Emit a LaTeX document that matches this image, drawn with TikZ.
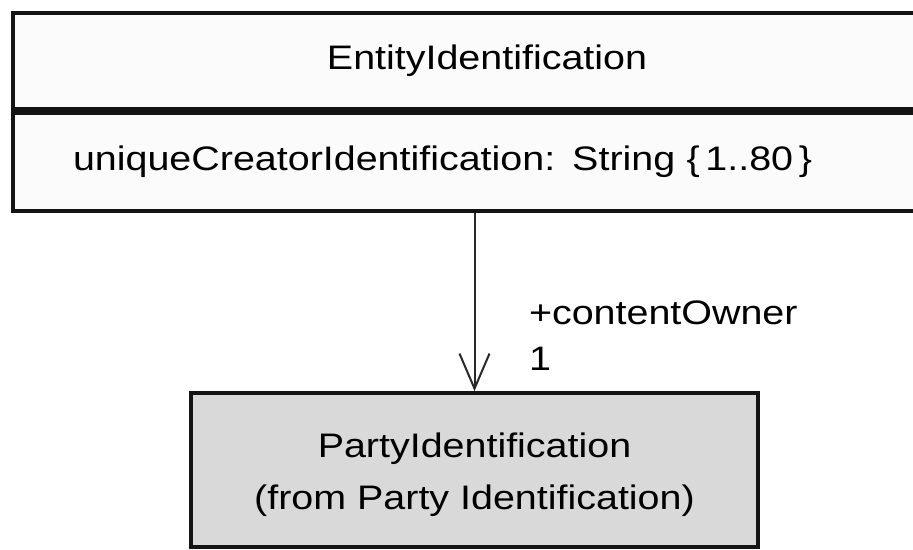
\documentclass[tikz,border=0pt]{standalone}
\usepackage{fontspec}
\setmainfont{Liberation Sans}[FakeStretch=1.16]
\usetikzlibrary{positioning,arrows.meta}

\tikzset{every picture/.style={line width=2pt}}

\begin{document}
\begin{tikzpicture}[x=1pt,y=1pt,yscale=-1,xscale=1,
	classbox/.style={draw={rgb,255:red,20;green,20;blue,20}, line width=3.8pt, fill={rgb,255:red,251;green,251;blue,251}, inner sep=0pt, font=\fontsize{34}{52}\selectfont},
	partybox/.style={classbox, fill={rgb,255:red,217;green,217;blue,217}, align=center},
	roletext/.style={anchor=west, inner sep=0pt, font=\fontsize{34}{48}\selectfont},
	assoc/.style={draw={rgb,255:red,40;green,40;blue,40}, line width=2pt, -{Straight Barb[length=35pt,width=30pt,line width=2pt]}}]
	\useasboundingbox (0,0) rectangle (913,549);
	\clip (0,0) rectangle (913,549);
	%Class EntityIdentification
	\node [classbox, minimum width=948pt, minimum height=96pt] (entity) at (487,61) {EntityIdentification};
	\node [classbox, anchor=north, minimum height=98pt, inner xsep=60pt, text width=828pt, align=left] (attrs) at (entity.south) {uniqueCreatorIdentification: String \{\,1..80\,\}};
	%Class PartyIdentification
	\node [partybox, minimum width=567pt, minimum height=154pt] (party) at (474.5,470) {\rule{0pt}{35pt}PartyIdentification\\(from Party Identification)};
	%Association
	\draw [assoc] (party.north |- attrs.south) -- (party.north);
	\node [roletext] (role) at (528,313) {+contentOwner};
	\node [roletext] (mult) at (528,359) {1};
\end{tikzpicture}
\end{document}
